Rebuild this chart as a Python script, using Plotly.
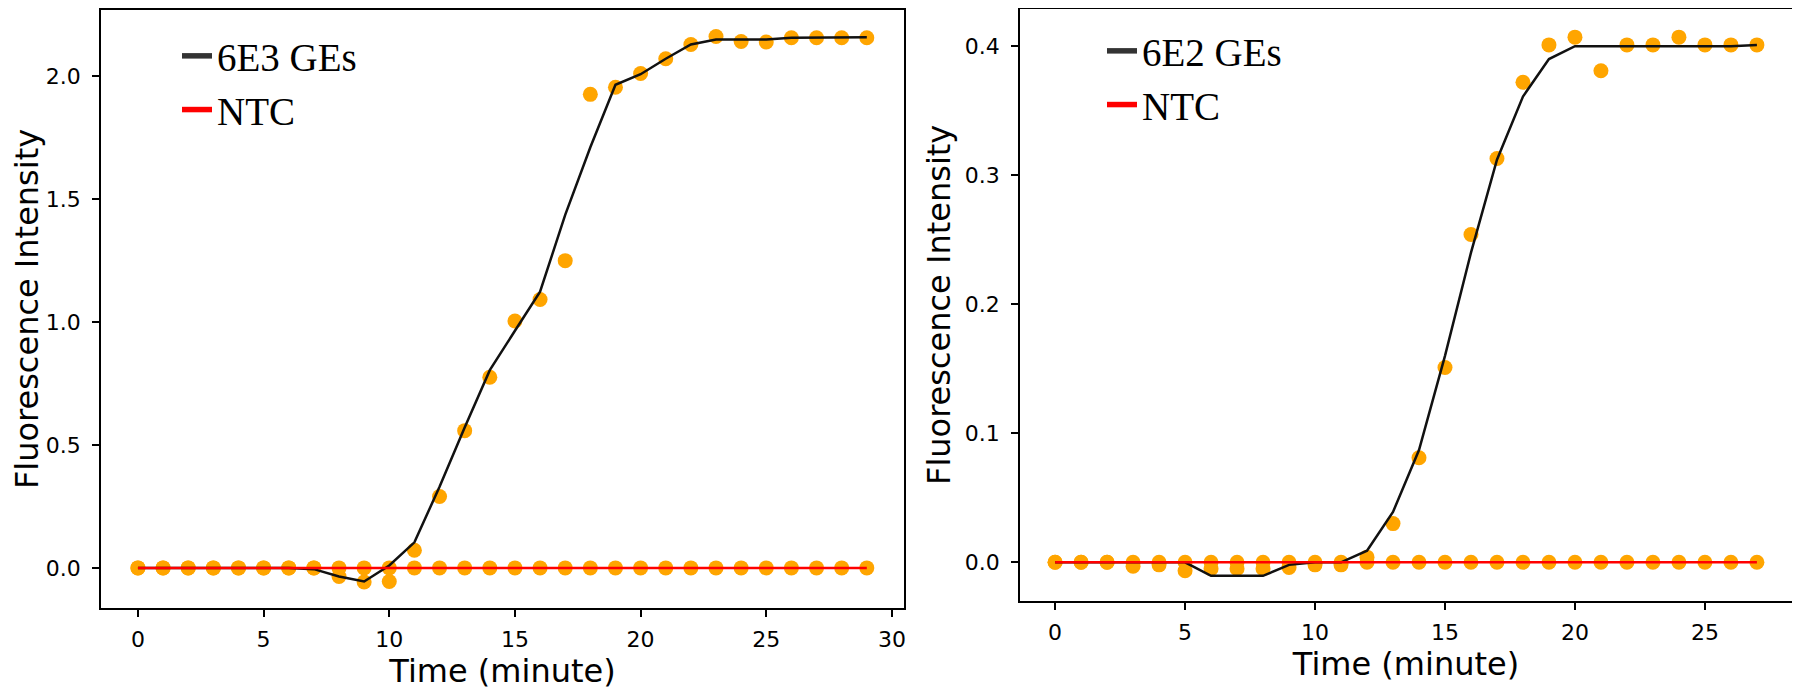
import plotly.graph_objects as go

# ---- data ----
time_a = list(range(30))
dots_6e3 = [0, 0, 0, 0, 0, 0, 0, 0, -0.035, -0.057, -0.055, 0.072, 0.29, 0.558, 0.775,
            1.004, 1.091, 1.249, 1.925, 1.954, 2.01, 2.07, 2.128, 2.16, 2.14, 2.138,
            2.155, 2.155, 2.155, 2.155]
fit_6e3 = [0, 0, 0, 0, 0, 0, 0, -0.005, -0.035, -0.055, 0.01, 0.104, 0.33, 0.571, 0.804,
           0.964, 1.123, 1.435, 1.71, 1.964, 2.007, 2.07, 2.128, 2.148, 2.148, 2.148,
           2.155, 2.155, 2.155, 2.157]
ntc_a = [0.0] * 30

time_b = list(range(28))
dots_6e2 = [0, 0, 0, -0.003, -0.002, -0.0065, -0.005, -0.005, -0.005, -0.004, -0.002, -0.002,
            0.004, 0.030, 0.081, 0.151, 0.254, 0.313, 0.372, 0.401, 0.407, 0.381, 0.401,
            0.401, 0.407, 0.401, 0.401, 0.401]
fit_6e2 = [0, 0, 0, 0, 0, 0, -0.0105, -0.0105, -0.0105, -0.002, 0, 0, 0.009, 0.039, 0.087,
           0.160, 0.240, 0.312, 0.361, 0.390, 0.400, 0.400, 0.400, 0.400, 0.400, 0.400,
           0.400, 0.401]
ntc_b = [0.0] * 28

label_a = "6E3 GEs"
label_b = "6E2 GEs"
label_ntc = "NTC"
x_title = "Time (minute)"
y_title = "Fluorescence Intensity"

ORANGE = "#FFA500"
# the page body has an 8px margin, so the figure is 8px smaller than the window
W, H = 1792, 686

fig = go.Figure()

def add_panel(t, dots, fit, ntc, label, xa, ya, legend):
    fig.add_trace(go.Scatter(x=t, y=dots, mode="markers", xaxis=xa, yaxis=ya,
                             marker=dict(color=ORANGE, size=15), showlegend=False))
    fig.add_trace(go.Scatter(x=t, y=ntc, mode="markers", xaxis=xa, yaxis=ya,
                             marker=dict(color=ORANGE, size=15), showlegend=False))
    fig.add_trace(go.Scatter(x=t, y=fit, mode="lines", xaxis=xa, yaxis=ya, name=label,
                             line=dict(color="#111111", width=2.5), showlegend=False))
    fig.add_trace(go.Scatter(x=t, y=ntc, mode="lines", xaxis=xa, yaxis=ya, name=label_ntc,
                             line=dict(color="#FF0000", width=2.5), showlegend=False))
    # legend entries (thicker glyphs, as in the reference)
    fig.add_trace(go.Scatter(x=[None], y=[None], mode="lines", xaxis=xa, yaxis=ya, name=label,
                             line=dict(color="#333333", width=5.5), legend=legend))
    fig.add_trace(go.Scatter(x=[None], y=[None], mode="lines", xaxis=xa, yaxis=ya, name=label_ntc,
                             line=dict(color="#FF0000", width=5.5), legend=legend))

add_panel(time_a, dots_6e3, fit_6e3, ntc_a, label_a, "x", "y", "legend")
add_panel(time_b, dots_6e2, fit_6e2, ntc_b, label_b, "x2", "y2", "legend2")

tick_font = dict(family="DejaVu Sans", size=22, color="black")
title_font = dict(family="DejaVu Sans", size=32, color="black")
ax_common = dict(showline=True, linecolor="black", linewidth=1.5, mirror=True,
                 ticks="outside", ticklen=7, tickwidth=1.5, tickcolor="black",
                 showgrid=False, zeroline=False, tickfont=tick_font, automargin=False)
x_common = dict(ticklabelstandoff=4, **ax_common)
y_common = dict(ticklabelstandoff=7, **ax_common)

legend_common = dict(font=dict(family="Liberation Serif", size=39, color="black"),
                     bgcolor="rgba(0,0,0,0)", xanchor="left", yanchor="top",
                     tracegroupgap=0)

fig.update_layout(
    width=W, height=H,
    margin=dict(l=0, r=0, t=0, b=0),
    paper_bgcolor="white", plot_bgcolor="white",
    xaxis=dict(domain=[93 / W, 896 / W], range=[-1.47, 30.48], dtick=5, tick0=0,
               title=dict(text=x_title, font=title_font, standoff=6), anchor="y", **x_common),
    yaxis=dict(domain=[1 - 600 / H, 1 - 2 / H], range=[-0.163, 2.268], dtick=0.5, tick0=0,
               tickformat=".1f",
               title=dict(text=y_title, font=title_font, standoff=5), anchor="x", **y_common),
    xaxis2=dict(domain=[1012 / W, 1784 / W], range=[-1.35, 28.35], dtick=5, tick0=0,
                title=dict(text=x_title, font=title_font, standoff=6), anchor="y2", **x_common),
    yaxis2=dict(domain=[1 - 593 / H, 1 - 0.75 / H], range=[-0.030, 0.429], dtick=0.1, tick0=0,
                tickformat=".1f",
                title=dict(text=y_title, font=title_font, standoff=5), anchor="x2", **y_common),
    legend=dict(x=169 / W, y=1 - 16 / H, **legend_common),
    legend2=dict(x=1094 / W, y=1 - 11 / H, **legend_common),
)

fig.write_html("out.html")
